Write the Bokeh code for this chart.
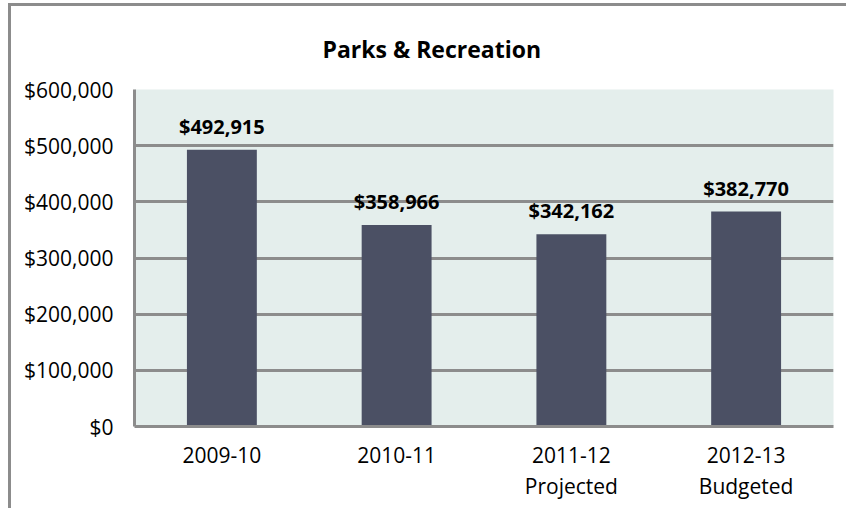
from bokeh.plotting import figure
from bokeh.models import (ColumnDataSource, NumeralTickFormatter, FixedTicker,
                          Range1d, FactorRange, LabelSet, CategoricalAxis)
from bokeh.core.properties import value
from bokeh.embed import file_html
from bokeh.resources import INLINE

title = "Parks & Recreation"
categories = ["2009-10", "2010-11", "2011-12", "2012-13"]
# second line of each category label (blank entries kept distinct for the range)
category_sublabels = [" ", "  ", "Projected", "Budgeted"]
values = [492915, 358966, 342162, 382770]
y_ticks = [0, 100000, 200000, 300000, 400000, 500000, 600000]

FONT = "Open Sans"
GRID = "#8c8c8c"

W, H = 838, 505
p = figure(x_range=FactorRange(*categories), y_range=Range1d(0, 600000),
           width=W, height=H, output_backend="svg", toolbar_location=None,
           min_border_left=123, min_border_right=16, min_border_top=80,
           min_border_bottom=85)
p.styles = {"margin-left": "8px", "margin-top": "3px",
            "border-left": f"3px solid {GRID}", "border-top": f"3px solid {GRID}"}
p.background_fill_color = "#e4eeec"
p.border_fill_color = "white"
p.outline_line_color = None
p.extra_x_ranges = {"sub": FactorRange(*category_sublabels)}

p.title.text = title
p.title.align = "left"
p.title.offset = 188
p.title.standoff = 49
p.title.text_font = FONT
p.title.text_font_size = "23px"
p.title.text_font_style = "bold"
p.title.text_color = "black"

src = ColumnDataSource(dict(
    cat=categories, val=values,
    lab=["${:,}".format(v) for v in values],
))
p.vbar(x="cat", top="val", width=0.4, source=src,
       fill_color="#4b5064", line_color=None)

p.add_layout(LabelSet(x="cat", y="val", text="lab", source=src,
                      text_align="center", text_baseline="bottom", y_offset=10,
                      text_font=value(FONT), text_font_size="20px",
                      text_font_style="bold", text_color="black"))

p.yaxis.ticker = FixedTicker(ticks=y_ticks)
p.yaxis.formatter = NumeralTickFormatter(format="$0,0")

sub_axis = CategoricalAxis(x_range_name="sub")
p.add_layout(sub_axis, "below")

for ax in (p.xaxis[0], p.yaxis[0], sub_axis):
    ax.major_tick_line_color = None
    ax.minor_tick_line_color = None
    ax.axis_line_color = GRID
    ax.axis_line_width = 3
    ax.major_label_text_font = FONT
    ax.major_label_text_font_size = "21px"
    ax.major_label_text_color = "black"
sub_axis.axis_line_color = None
sub_axis.major_label_standoff = 0
p.yaxis.major_label_standoff = 15
p.xaxis[0].major_label_standoff = 14

p.xgrid.grid_line_color = None
p.ygrid.grid_line_color = GRID
p.ygrid.grid_line_width = 3

open("out.html", "w").write(file_html(p, INLINE))
